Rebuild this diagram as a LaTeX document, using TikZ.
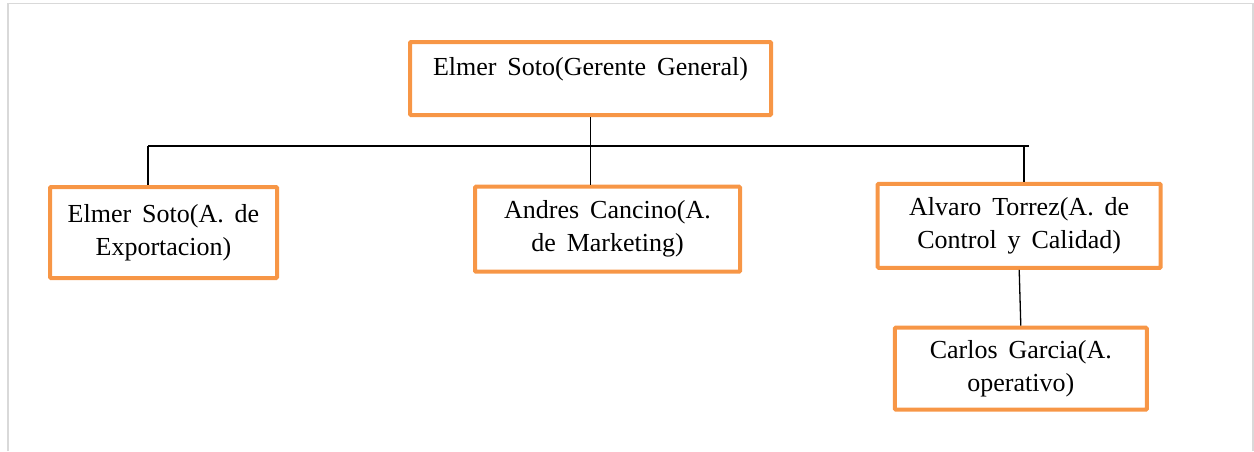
\documentclass[tikz,border=0pt]{standalone}
\usepackage{fontspec}
\setmainfont{Liberation Serif}
\definecolor{boxorange}{HTML}{F79646}
\definecolor{framegray}{HTML}{D9D9D9}
\begin{document}
\begin{tikzpicture}[x=1pt, y=-1pt,
    box/.style={draw=boxorange, line width=4pt, rounded corners=1pt, inner sep=0pt,
      align=center, font={\fontsize{26}{33}\selectfont\spaceskip=0.42em\relax}},
    link/.style={line width=1.3pt}]
    \useasboundingbox (0,0) rectangle (1254,451);

    % Page frame
    \draw[framegray, line width=1.5pt] (8,451) -- (8,3.5) -- (1253,3.5) -- (1253,451);

    % Boxes
    \node[box, minimum width=361pt, minimum height=73pt] (gerente) at (590.5,78.5)
      {Elmer Soto(Gerente General)\\[-9pt]\mbox{}};
    \node[box, minimum width=227pt, minimum height=91pt] (exporta) at (163.5,232.5)
      {Elmer Soto(A. de\\Exportacion)};
    \node[box, minimum width=265pt, minimum height=85pt] (marketing) at (607.5,229.2)
      {Andres Cancino(A.\\de Marketing)};
    \node[box, minimum width=283pt, minimum height=84pt] (control) at (1019.2,225.8)
      {Alvaro Torrez(A. de\\Control y Calidad)};
    \node[box, minimum width=252pt, minimum height=82pt] (operativo) at (1020.8,368.7)
      {Carlos Garcia(A.\\operativo)};

    % Bus line
    \coordinate (busL) at (148,146);
    \coordinate (busR) at (1029,146);
    \coordinate (dropR) at (1024,146);
    \draw[link] (busL) -- (busR);

    % Connectors
    \draw[link] (gerente.south) -- (gerente.south |- marketing.north);
    \draw[link] (busL) -- (busL |- exporta.north);
    \draw[link] (dropR) -- (dropR |- control.north);
    \draw[link] (control.south) -- (operativo.north);
\end{tikzpicture}
\end{document}
